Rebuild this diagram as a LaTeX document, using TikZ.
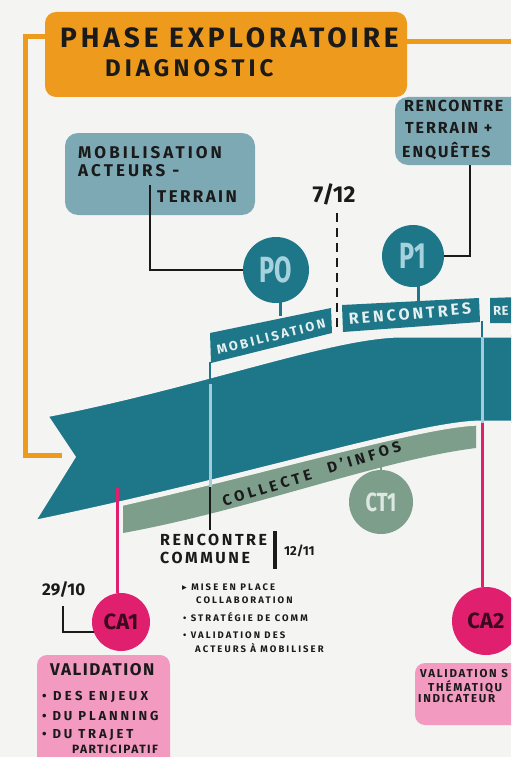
\documentclass[tikz,border=0pt]{standalone}
\usepackage{fontspec}
\setmainfont{Fira Sans}
\newfontfamily\symf{DejaVu Sans}
\newcommand\hwtext[3]{{\bfseries\fontsize{#1}{#1}\selectfont\addfontfeatures{LetterSpace=#2}#3}}
\definecolor{bgc}{HTML}{F4F4F3}
\definecolor{orng}{HTML}{EE9A1C}
\definecolor{boxblue}{HTML}{7DA9B5}
\definecolor{tealc}{HTML}{1E7789}
\definecolor{ltline}{HTML}{A3CCD8}
\definecolor{circtxt}{HTML}{A6D2DD}
\definecolor{sage}{HTML}{7C9E8A}
\definecolor{sagetxt}{HTML}{DDE8E2}
\definecolor{magc}{HTML}{E11F6F}
\definecolor{pinkbox}{HTML}{F39AC1}
\definecolor{ink}{HTML}{1A1A1A}
\definecolor{catxt}{HTML}{3B0A1E}
\definecolor{tabtxt}{HTML}{E6F0F2}
\begin{document}
\begin{tikzpicture}[x=1pt,y=-1pt,
  txt/.style={inner sep=0pt, anchor=west, text=ink},
  bluebox/.style={fill=boxblue, rounded corners=13pt, inner sep=0pt},
  pbox/.style={fill=pinkbox, rounded corners=10pt, inner sep=0pt},
  tcirc/.style={circle, fill=tealc, inner sep=0pt, text=circtxt, font=\bfseries\fontsize{28}{28}\selectfont},
  mcirc/.style={circle, fill=magc, inner sep=0pt, text=catxt, font=\bfseries\fontsize{22}{22}\selectfont},
  conn/.style={draw=ink, line width=1.6pt},
  tabtext/.style={inner sep=0pt, text=tabtxt}
]
\fill[bgc] (0,0) rectangle (511,757);
\clip (0,0) rectangle (511,757);

% orange bracket and line
\coordinate (brA) at (45,37);
\coordinate (brB) at (25,455);
\coordinate (brC) at (62,455);
\coordinate (olE) at (511,42);
\draw[orng, line width=5pt] (brA) -| (brB) -- (brC);
\node[fill=orng, rounded corners=11pt, minimum width=362pt, minimum height=85pt, inner sep=0pt] (phase) at (226,54.5) {};
\draw[orng, line width=5pt] (phase.east |- olE) -- (olE);
\node[txt] (t1) at (60,38) {\hwtext{28}{14}{PHASE EXPLORATOIRE}};
\node[txt] (t2) at (105,68) {\hwtext{24}{17}{DIAGNOSTIC}};

% blue boxes
\node[bluebox, minimum width=190pt, minimum height=82pt] (mob) at (160,174) {};
\node[txt] (m1) at (78,153) {\hwtext{17}{18}{MOBILISATION}};
\node[txt] (m2) at (78,171) {\hwtext{17}{18}{ACTEURS -}};
\node[txt] (m3) at (157,197) {\hwtext{17}{14}{TERRAIN}};
\node[bluebox, minimum width=140pt, minimum height=68pt] (renc) at (465,131) {};
\node[txt] (r1) at (404,106) {\hwtext{16}{10}{RENCONTRE}};
\node[txt] (r2) at (405,128) {\hwtext{16}{12}{TERRAIN +}};
\node[txt] (r3) at (402,151) {\hwtext{16}{12}{ENQUÊTES}};

% circles PO P1
\node[tcirc, minimum size=66pt] (po) at (276,270) {\scalebox{0.9}[1.3]{PO}};
\node[tcirc, minimum size=62pt] (p1) at (413,256) {\scalebox{0.9}[1.3]{P1}};
\coordinate (mobS) at (150,185);
\coordinate (rencB) at (470,165);
\draw[conn] (mobS) |- (po.west);
\draw[conn] (p1.east) -| (rencB);

% date 7/12 and dashed line
\node[inner sep=0pt, text=ink] (d712) at (334,194) {\bfseries\fontsize{23}{23}\selectfont 7/12};
\coordinate (dashE) at (337,328);
\draw[ink, line width=1.8pt, dash pattern=on 9pt off 6pt] (d712.south -| dashE) ++(0,8) -- (dashE);

% green strip
\fill[sage] (123,495) -- (123,533) .. controls (250,510) and (380,460) .. (476,448) -- (476,410) -- cycle;
% teal ribbon
\path[fill=tealc, draw=bgc, line width=5pt, line join=miter]
  (45,415) .. controls (200,385) and (330,336) .. (400,335) -- (530,335) -- (530,423) -- (482,423)
  .. controls (420,423) and (250,478) .. (32,523) -- (73,457) -- cycle;
% tabs
\fill[tealc] (210,333) -- (331,308) -- (332,333) -- (211,363) -- cycle;
\fill[tealc] (342,305) -- (479,298) -- (480,322) -- (343,332) -- cycle;
\fill[tealc] (490,298) -- (520,297) -- (520,323) -- (490,323) -- cycle;
\node[tabtext, rotate=14] (tabm) at (271,337) {\hwtext{13}{19}{MOBILISATION}};
\node[tabtext, rotate=5] (tabr) at (410,314) {\hwtext{16}{19}{RENCONTRES}};
\node[tabtext, anchor=west, rotate=2] (tabx) at (493,311) {\hwtext{13}{4}{RE}};

% stems
\coordinate (poS) at (280,316);
\coordinate (p1S) at (418,301);
\draw[tealc, line width=3pt] (po.south) ++(4,-1) -- (poS);
\draw[tealc, line width=3pt] (p1.south) ++(5,-1) -- (p1S);

% vertical poles
\coordinate (v1a) at (210,362);
\coordinate (v1b) at (210,384);
\coordinate (v1c) at (210,487);
\coordinate (v1d) at (210,530);
\draw[tealc, line width=2.5pt] (v1a) -- (v1b);
\draw[ltline, line width=3pt] (v1b) -- (v1c);
\draw[ink, line width=2pt] (v1c) -- (v1d);
\coordinate (v2a) at (482,321);
\coordinate (v2b) at (482,337);
\coordinate (v2c) at (482,423);
\draw[tealc, line width=2.5pt] (v2a) -- (v2b);
\draw[ltline, line width=3pt] (v2b) -- (v2c);

% collecte text and CT1
\node[inner sep=0pt, text=ink, rotate=17] (coll1) at (267,488) {\hwtext{15}{25}{COLLECTE}};
\node[inner sep=0pt, text=ink, rotate=17] (coll2) at (364,457) {\hwtext{15}{25}{D'INFOS}};
\node[circle, fill=sage, minimum size=64pt, inner sep=0pt, text=sagetxt, font=\bfseries\fontsize{21}{21}\selectfont] (ct1) at (381,502) {\scalebox{0.95}[1.25]{CT1}};
\coordinate (ct1S) at (381,463);
\draw[sage, line width=2.5pt] (ct1S) -- (ct1.north);

% CA circles and pink lines
\node[mcirc, minimum size=58pt] (ca1) at (121,622) {CA1};
\node[mcirc, minimum size=68pt] (ca2) at (486,621) {CA2};
\coordinate (ca1T) at (117,488);
\draw[magc, line width=3pt] (ca1T) -- (ca1T |- ca1.north) ++(0,2);
\draw[magc, line width=3pt] (v2c) -- (ca2.north -| v2c);

% 29/10
\node[txt] (d2910) at (42,590) {\bfseries\fontsize{17}{17}\selectfont 29/10};
\coordinate (brk) at (63,606);
\draw[conn] (brk) |- (ca1.200);

% rencontre commune
\node[txt] (rc1) at (160,540) {\hwtext{16}{16}{RENCONTRE}};
\node[txt] (rc2) at (160,558) {\hwtext{16}{16}{COMMUNE}};
\coordinate (barT) at (275,531);
\coordinate (barB) at (275,569);
\draw[ink, line width=4pt] (barT) -- (barB);
\node[txt] (d1211) at (284,551) {\bfseries\fontsize{13}{13}\selectfont 12/11};
\node[txt] (b1) at (182,587) {\hwtext{9.5}{22}{{\symf ▸} MISE EN PLACE}};
\node[txt] (b1b) at (196,600) {\hwtext{9.5}{22}{COLLABORATION}};
\node[txt] (b2) at (183,617) {\hwtext{9.5}{22}{• STRATÉGIE DE COMM}};
\node[txt] (b3) at (183,635) {\hwtext{9.5}{22}{• VALIDATION DES}};
\node[txt] (b3b) at (195,648) {\hwtext{9.5}{22}{ACTEURS À MOBILISER}};

% pink boxes
\node[pbox, minimum width=133pt, minimum height=120pt] (val1) at (103.5,715) {};
\node[txt] (v1t) at (50,670) {\hwtext{17}{9}{VALIDATION}};
\node[txt] (v1l1) at (42,697) {\hwtext{13}{26}{• DES ENJEUX}};
\node[txt] (v1l2) at (42,716) {\hwtext{13}{22}{• DU PLANNING}};
\node[txt] (v1l3) at (42,735) {\hwtext{13}{22}{• DU TRAJET}};
\node[txt] (v1l4) at (72,749) {\hwtext{12}{12}{PARTICIPATIF}};
\node[pbox, minimum width=120pt, minimum height=62pt] (val2) at (475,694) {};
\node[txt] (v2l1) at (420,674) {\hwtext{11.5}{15}{VALIDATION S}};
\node[txt] (v2l2) at (428,687) {\hwtext{11.5}{15}{THÉMATIQU}};
\node[txt] (v2l3) at (418,699) {\hwtext{11.5}{15}{INDICATEUR}};
\end{tikzpicture}
\end{document}
